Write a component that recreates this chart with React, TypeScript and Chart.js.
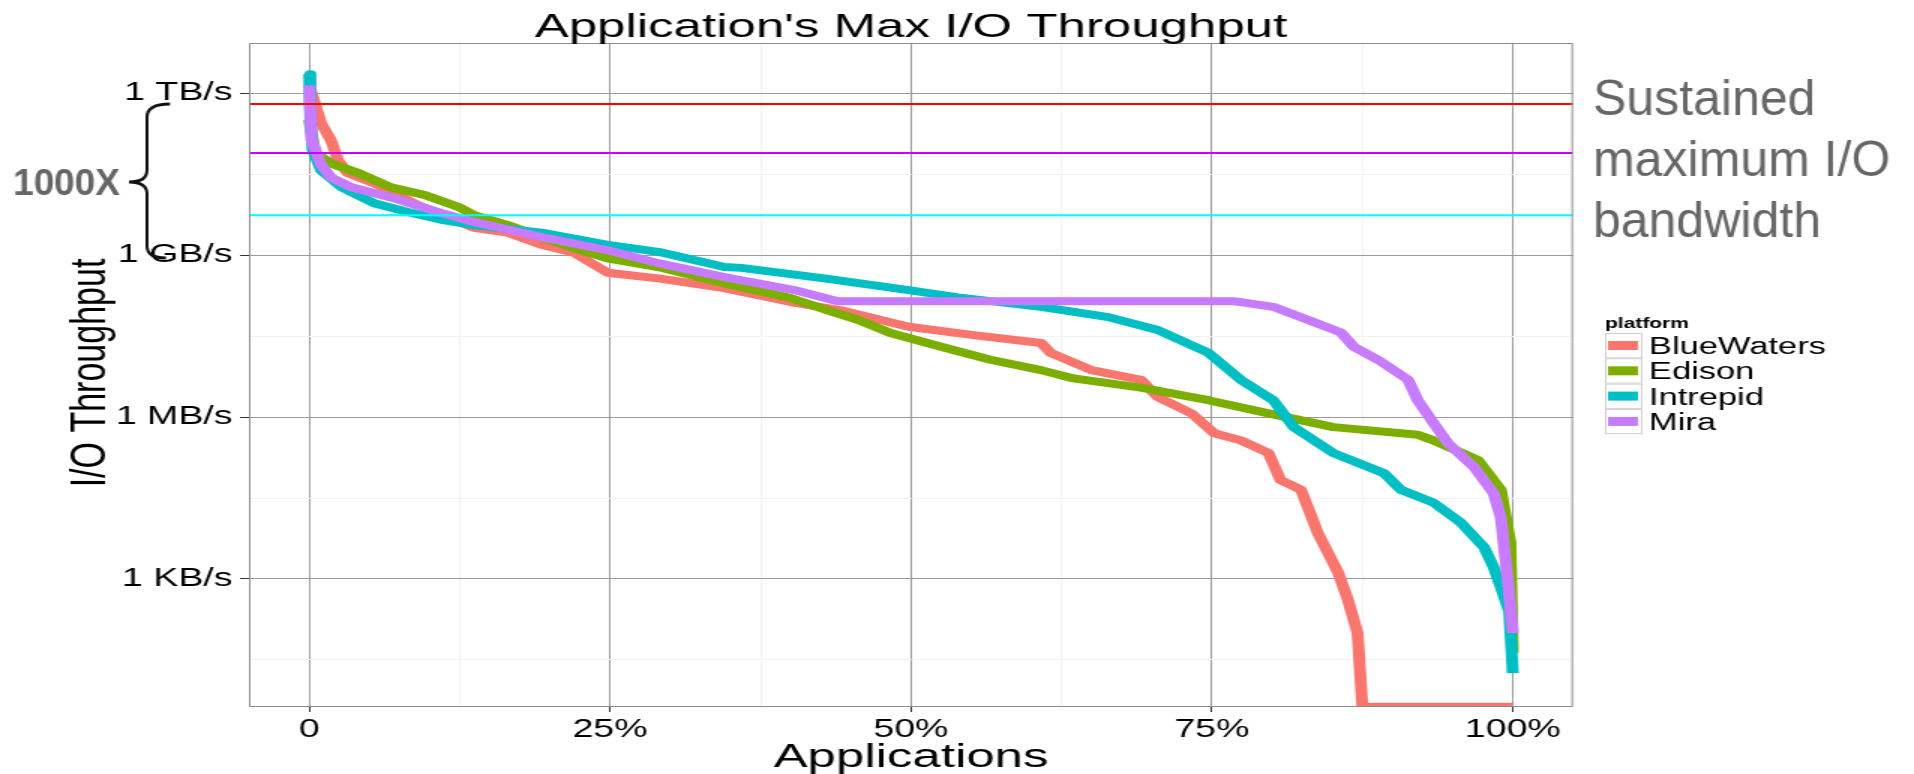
import React, { useEffect, useRef } from 'react';
import { Chart, registerables } from 'chart.js';

Chart.register(...registerables);

// ---------------- data ----------------
const platforms = ['BlueWaters', 'Edison', 'Intrepid', 'Mira'];
const platformColors = ['#F8766D', '#7CAE00', '#00BFC4', '#C77CFF'];

// x = fraction of applications (sorted), y = max I/O throughput in bytes/s
const blueWatersX = [0, 0.01, 0.018, 0.024, 0.032, 0.054, 0.09, 0.137, 0.165, 0.193, 0.22, 0.248, 0.29, 0.345, 0.40, 0.442, 0.475, 0.498, 0.552, 0.608, 0.616, 0.65, 0.691, 0.705, 0.733, 0.752, 0.774, 0.797, 0.807, 0.824, 0.838, 0.855, 0.863, 0.871, 0.875, 1.0];
const blueWatersY = [1.4e12, 2.75e11, 1.35e11, 5.8e10, 3.3e10, 2.15e10, 8.5e9, 3.2e9, 2.6e9, 1.55e9, 1.1e9, 4.7e8, 3.7e8, 2.45e8, 1.35e8, 9.5e7, 6.3e7, 4.7e7, 3.3e7, 2.35e7, 1.55e7, 7.4e6, 4.9e6, 2.35e6, 1.17e6, 5.0e5, 3.7e5, 2.15e5, 6.8e4, 4.5e4, 7.1e3, 1.3e3, 410, 100, 4.3, 4.3];

const edisonX = [0, 0.005, 0.018, 0.041, 0.068, 0.096, 0.124, 0.137, 0.165, 0.193, 0.22, 0.248, 0.29, 0.345, 0.40, 0.431, 0.456, 0.483, 0.525, 0.566, 0.608, 0.635, 0.691, 0.747, 0.797, 0.851, 0.921, 0.934, 0.971, 0.99, 0.998, 1.0];
const edisonY = [3.2e11, 7.9e10, 5.0e10, 3.3e10, 1.8e10, 1.3e10, 7.8e9, 5.5e9, 3.6e9, 2.15e9, 1.35e9, 8.7e8, 6.0e8, 3.0e8, 1.6e8, 9.5e7, 6.3e7, 3.6e7, 2.0e7, 1.15e7, 7.4e6, 5.2e6, 3.5e6, 2.05e6, 1.17e6, 6.5e5, 4.7e5, 3.7e5, 1.6e5, 4.5e4, 4.7e3, 43];

const intrepidX = [0, 0.001, 0.003, 0.01, 0.027, 0.054, 0.082, 0.11, 0.137, 0.193, 0.248, 0.29, 0.345, 0.359, 0.428, 0.498, 0.539, 0.608, 0.664, 0.705, 0.747, 0.774, 0.801, 0.818, 0.851, 0.893, 0.907, 0.934, 0.957, 0.976, 0.984, 0.99, 0.997, 1.0];
const intrepidY = [2.24e12, 3.2e11, 8.7e10, 3.7e10, 1.8e10, 9.1e9, 6.3e9, 4.5e9, 3.6e9, 2.6e9, 1.55e9, 1.15e9, 6.0e8, 5.8e8, 3.7e8, 2.25e8, 1.65e8, 1.1e8, 7.1e7, 4.1e7, 1.55e7, 4.9e6, 2.05e6, 6.5e5, 2.15e5, 9.1e4, 4.5e4, 2.6e4, 1.1e4, 3.9e3, 1.66e3, 710, 250, 18];

const miraX = [0, 0.002, 0.01, 0.018, 0.035, 0.068, 0.11, 0.137, 0.193, 0.248, 0.29, 0.345, 0.403, 0.439, 0.768, 0.801, 0.83, 0.857, 0.868, 0.888, 0.913, 0.921, 0.934, 0.946, 0.968, 0.984, 0.99, 0.993, 0.996, 1.0];
const miraY = [1.4e12, 1.35e11, 4.7e10, 2.75e10, 1.8e10, 1.17e10, 6.0e9, 4.1e9, 2.15e9, 1.23e9, 7.1e8, 3.9e8, 2.25e8, 1.4e8, 1.4e8, 1.1e8, 6.3e7, 3.7e7, 2.0e7, 1.15e7, 4.9e6, 2.05e6, 7.8e5, 3.3e5, 1.17e5, 3.9e4, 1.4e4, 3.5e3, 850, 100];

// sustained maximum I/O bandwidth reference lines (bytes/s)
const refLevels = [6.3e11, 7.8e10, 5.5e9];
const refColors = ['#FF0000', '#CC00FF', '#00FFFF'];

// axes
const xMajorTicks = [0, 0.25, 0.5, 0.75, 1];
const xTickLabels = ['0', '25%', '50%', '75%', '100%'];
const xMinorTicks = [0.125, 0.375, 0.625, 0.875];
const yMajorExponents = [3, 6, 9, 12];
const yTickLabels = ['1 KB/s', '1 MB/s', '1 GB/s', '1 TB/s'];
const yMinorExponents = [1.5, 4.5, 7.5, 10.5];

const title = "Application's Max I/O Throughput";
const xTitle = 'Applications';
const yTitle = 'I/O Throughput';
const legendTitle = 'platform';
const noteLines = ['Sustained', 'maximum I/O', 'bandwidth'];
const braceLabel = '1000X';

// ---------------- layout ----------------
const S = 1.5; // the plot is drawn horizontally stretched
const PAGE_W = 1914;
const PAGE_H = 774;
const W = Math.round(PAGE_W / S);
const FONT = '"Liberation Sans", Arial, Helvetica, sans-serif';

const isMajorX = (v: number) => xMajorTicks.some((t) => Math.abs(t - v) < 1e-9);
const expOf = (v: number) => Math.round(Math.log10(v) * 2) / 2;
const isMajorY = (v: number) => yMajorExponents.includes(expOf(v));

const overlayPlugin = {
  id: 'overlay',
  afterDatasetsDraw(chart: any) {
    const { ctx, chartArea } = chart;
    const { left, top, right, bottom } = chartArea;
    ctx.save();
    ctx.strokeStyle = '#8c8c8c';
    ctx.lineWidth = 1;
    ctx.strokeRect(left + 0.5, top + 0.5, right - left - 1, bottom - top - 1);
    ctx.restore();
  },
  afterDraw(chart: any) {
    const { ctx, chartArea } = chart;
    const cx = (chartArea.left + chartArea.right) / 2;
    ctx.save();
    ctx.fillStyle = '#000';
    ctx.textAlign = 'center';
    ctx.textBaseline = 'alphabetic';
    ctx.font = `34px ${FONT}`;
    ctx.fillText(title, cx, 37);
    ctx.fillText(xTitle, cx, 767);

    // y title
    ctx.save();
    ctx.translate(70, 373);
    ctx.rotate(-Math.PI / 2);
    ctx.font = `34px ${FONT}`;
    ctx.fillText(yTitle, 0, 0);
    ctx.restore();

    // legend
    ctx.textAlign = 'left';
    ctx.font = `bold 14px ${FONT}`;
    ctx.fillText(legendTitle, 1070, 328);
    ctx.font = `23px ${FONT}`;
    platforms.forEach((p, i) => {
      const rowTop = 333 + i * 25.3;
      ctx.fillStyle = '#ffffff';
      ctx.fillRect(1070, rowTop, 24.7, 25.3);
      ctx.strokeStyle = '#cfcfcf';
      ctx.lineWidth = 1;
      ctx.strokeRect(1070.5, rowTop + 0.5, 24, 24.3);
      ctx.fillStyle = platformColors[i];
      ctx.fillRect(1072, rowTop + 8, 20, 9);
      ctx.fillStyle = '#000';
      ctx.fillText(p, 1099.3, rowTop + 21);
    });
    ctx.restore();

    // unstretched annotations (page coordinates)
    ctx.save();
    ctx.setTransform(1 / S, 0, 0, 1, 0, 0);
    ctx.fillStyle = '#666666';
    ctx.textAlign = 'left';
    ctx.textBaseline = 'alphabetic';
    ctx.font = `50px ${FONT}`;
    noteLines.forEach((t, i) => ctx.fillText(t, 1593, 115 + i * 61));
    ctx.font = `bold 37px ${FONT}`;
    ctx.fillText(braceLabel, 13, 195);
    ctx.strokeStyle = '#111';
    ctx.lineWidth = 3;
    ctx.beginPath();
    ctx.moveTo(170, 104);
    ctx.quadraticCurveTo(147, 104, 147, 117);
    ctx.lineTo(147, 170);
    ctx.quadraticCurveTo(147, 182, 129, 182);
    ctx.quadraticCurveTo(147, 182, 147, 194);
    ctx.lineTo(147, 246);
    ctx.quadraticCurveTo(147, 258, 166, 258);
    ctx.stroke();
    ctx.restore();
  },
};

export default function App() {
  const canvasRef = useRef<HTMLCanvasElement | null>(null);

  useEffect(() => {
    const canvas = canvasRef.current;
    if (!canvas) return;
    const seriesX = [blueWatersX, edisonX, intrepidX, miraX];
    const seriesY = [blueWatersY, edisonY, intrepidY, miraY];

    const datasets: any[] = [
      ...refLevels.map((v, i) => ({
        label: 'ref' + i,
        data: [{ x: -0.05, y: v }, { x: 1.05, y: v }],
        borderColor: refColors[i],
        backgroundColor: refColors[i],
        borderWidth: 2,
        pointRadius: 0,
        order: 0,
        clip: 0,
      })),
      ...platforms.map((p, i) => ({
        label: p,
        data: seriesX[i].map((x, j) => ({ x, y: seriesY[i][j] })),
        borderColor: platformColors[i],
        backgroundColor: platformColors[i],
        borderWidth: 8,
        pointRadius: 0,
        borderJoinStyle: 'round',
        borderCapStyle: 'butt',
        tension: 0,
        order: 4 - i,
        clip: 0,
      })),
    ];

    const chart = new Chart(canvas, {
      type: 'line',
      data: { datasets },
      plugins: [overlayPlugin],
      options: {
        animation: false,
        responsive: false,
        devicePixelRatio: 1,
        events: [],
        layout: { padding: { top: 43, right: W - 1573 / S, bottom: 0, left: 0 } },
        plugins: { legend: { display: false }, tooltip: { enabled: false }, title: { display: false } },
        font: { family: FONT },
        scales: {
          x: {
            type: 'linear',
            min: -0.05,
            max: 1.05,
            afterBuildTicks: (s: any) => {
              s.ticks = [...xMajorTicks, ...xMinorTicks].sort((a, b) => a - b).map((v) => ({ value: v }));
            },
            afterFit: (s: any) => {
              s.height = PAGE_H - 707;
            },
            border: { display: false },
            grid: {
              color: (c: any) => (c.tick && isMajorX(c.tick.value) ? '#9a9a9a' : '#f2f2f2'),
              tickColor: (c: any) => (c.tick && isMajorX(c.tick.value) ? '#333333' : 'rgba(0,0,0,0)'),
              tickLength: 5,
              lineWidth: 1,
            },
            ticks: {
              autoSkip: false,
              maxRotation: 0,
              minRotation: 0,
              padding: 3,
              color: '#000',
              font: { family: FONT, size: 25 },
              callback: (v: any) => {
                const k = xMajorTicks.findIndex((t) => Math.abs(t - v) < 1e-9);
                return k >= 0 ? xTickLabels[k] : '';
              },
            },
          },
          y: {
            type: 'logarithmic',
            min: 4.25,
            max: 8.5e12,
            afterBuildTicks: (s: any) => {
              s.ticks = [...yMajorExponents, ...yMinorExponents]
                .sort((a, b) => a - b)
                .map((e) => ({ value: Math.pow(10, e) }));
            },
            afterFit: (s: any) => {
              s.width = 249 / S;
            },
            border: { display: false },
            grid: {
              color: (c: any) => (c.tick && isMajorY(c.tick.value) ? '#9a9a9a' : '#f2f2f2'),
              tickColor: (c: any) => (c.tick && isMajorY(c.tick.value) ? '#333333' : 'rgba(0,0,0,0)'),
              tickLength: 6,
              lineWidth: 1,
            },
            ticks: {
              autoSkip: false,
              padding: 5,
              color: '#000',
              font: { family: FONT, size: 25 },
              callback: (v: any) => {
                const k = yMajorExponents.indexOf(expOf(Number(v)));
                return k >= 0 ? yTickLabels[k] : '';
              },
            },
          },
        },
      } as any,
    });
    return () => chart.destroy();
  }, []);

  return (
    <div style={{ position: 'absolute', left: 0, top: 0, width: PAGE_W, height: PAGE_H, background: '#fff' }}>
      <canvas
        ref={canvasRef}
        width={W}
        height={PAGE_H}
        style={{ width: PAGE_W + 'px', height: PAGE_H + 'px', display: 'block' }}
      />
    </div>
  );
}
